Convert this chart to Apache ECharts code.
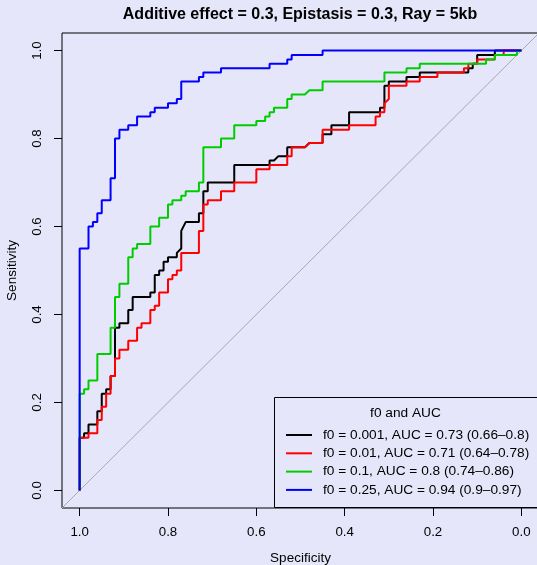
<!DOCTYPE html>
<html>
<head>
<meta charset="utf-8">
<script src="https://cdn.jsdelivr.net/npm/echarts@6/dist/echarts.min.js"></script>
<style>
html,body{margin:0;padding:0;background:#E6E6FA;}
#chart{width:537px;height:565px;}
</style>
</head>
<body>
<div id="chart"></div>
<script>
// ---- data: [specificity, sensitivity] vertices of each ROC curve ----
const titleText = "Additive effect = 0.3, Epistasis = 0.3, Ray = 5kb";
const xTicks = [0, 0.2, 0.4, 0.6, 0.8, 1.0];
const yTicks = [0, 0.2, 0.4, 0.6, 0.8, 1.0];
const legendTitle = "f0 and AUC";
const seriesNames = [
  "f0 = 0.001, AUC = 0.73 (0.66\u20130.8)",
  "f0 = 0.01, AUC = 0.71 (0.64\u20130.78)",
  "f0 = 0.1, AUC = 0.8 (0.74\u20130.86)",
  "f0 = 0.25, AUC = 0.94 (0.9\u20130.97)"
];
const seriesColors = ["#000000", "#FF0000", "#00CD00", "#0000FF"];

const rocF0001 = [[1,0],[1,0.12],[0.99,0.12],[0.99,0.13],[0.98,0.13],[0.98,0.15],[0.96,0.15],[0.96,0.18],[0.95,0.18],[0.95,0.22],[0.94,0.22],[0.94,0.23],[0.93,0.23],[0.93,0.26],[0.92,0.26],[0.92,0.37],[0.91,0.37],[0.91,0.38],[0.89,0.38],[0.89,0.41],[0.88,0.41],[0.88,0.44],[0.84,0.44],[0.84,0.45],[0.83,0.45],[0.83,0.49],[0.82,0.49],[0.82,0.50],[0.81,0.50],[0.81,0.52],[0.80,0.52],[0.80,0.53],[0.78,0.53],[0.78,0.54],[0.77,0.55],[0.77,0.59],[0.76,0.61],[0.73,0.61],[0.73,0.63],[0.72,0.63],[0.72,0.68],[0.71,0.68],[0.71,0.70],[0.65,0.70],[0.65,0.74],[0.57,0.74],[0.57,0.75],[0.56,0.75],[0.55,0.76],[0.53,0.76],[0.53,0.78],[0.49,0.78],[0.48,0.79],[0.45,0.79],[0.45,0.81],[0.43,0.81],[0.43,0.83],[0.39,0.83],[0.39,0.86],[0.32,0.86],[0.32,0.87],[0.31,0.87],[0.31,0.92],[0.30,0.92],[0.30,0.93],[0.26,0.93],[0.26,0.94],[0.23,0.94],[0.23,0.95],[0.12,0.95],[0.12,0.96],[0.11,0.96],[0.11,0.97],[0.10,0.97],[0.10,0.99],[0.06,0.99],[0.06,1],[0,1]];

const rocF001 = [[1,0],[1,0.12],[0.98,0.12],[0.98,0.13],[0.96,0.13],[0.96,0.16],[0.95,0.16],[0.95,0.19],[0.94,0.19],[0.94,0.22],[0.93,0.22],[0.93,0.26],[0.92,0.26],[0.92,0.30],[0.91,0.30],[0.91,0.32],[0.89,0.32],[0.89,0.34],[0.87,0.34],[0.87,0.37],[0.86,0.37],[0.86,0.38],[0.84,0.38],[0.84,0.41],[0.83,0.41],[0.83,0.42],[0.82,0.42],[0.82,0.45],[0.80,0.45],[0.80,0.48],[0.79,0.48],[0.79,0.49],[0.78,0.49],[0.78,0.50],[0.77,0.50],[0.77,0.54],[0.73,0.54],[0.73,0.59],[0.72,0.59],[0.72,0.65],[0.71,0.65],[0.71,0.66],[0.68,0.66],[0.68,0.68],[0.65,0.68],[0.65,0.70],[0.60,0.70],[0.60,0.73],[0.57,0.73],[0.57,0.74],[0.53,0.74],[0.53,0.76],[0.52,0.76],[0.52,0.78],[0.49,0.78],[0.48,0.79],[0.45,0.79],[0.45,0.82],[0.39,0.82],[0.39,0.83],[0.33,0.83],[0.33,0.85],[0.32,0.85],[0.32,0.86],[0.31,0.86],[0.31,0.88],[0.30,0.89],[0.30,0.92],[0.26,0.92],[0.26,0.93],[0.23,0.93],[0.23,0.94],[0.19,0.94],[0.19,0.95],[0.13,0.95],[0.13,0.96],[0.12,0.96],[0.12,0.97],[0.10,0.97],[0.10,0.98],[0.06,0.98],[0.06,0.99],[0.04,0.99],[0.04,1],[0,1]];

const rocF01 = [[1,0],[1,0.22],[0.99,0.22],[0.99,0.23],[0.98,0.23],[0.98,0.25],[0.96,0.25],[0.96,0.31],[0.93,0.31],[0.93,0.37],[0.92,0.37],[0.92,0.44],[0.91,0.44],[0.91,0.47],[0.89,0.47],[0.89,0.53],[0.88,0.53],[0.88,0.55],[0.87,0.55],[0.87,0.56],[0.84,0.56],[0.84,0.60],[0.82,0.60],[0.82,0.62],[0.80,0.62],[0.80,0.65],[0.79,0.65],[0.79,0.66],[0.77,0.66],[0.77,0.67],[0.76,0.67],[0.76,0.68],[0.73,0.68],[0.73,0.70],[0.72,0.70],[0.72,0.78],[0.68,0.78],[0.68,0.80],[0.65,0.80],[0.65,0.83],[0.60,0.83],[0.60,0.84],[0.58,0.84],[0.58,0.85],[0.57,0.85],[0.57,0.86],[0.56,0.86],[0.56,0.87],[0.53,0.87],[0.53,0.89],[0.52,0.89],[0.52,0.90],[0.49,0.90],[0.48,0.91],[0.45,0.91],[0.45,0.93],[0.31,0.93],[0.31,0.95],[0.26,0.95],[0.26,0.96],[0.23,0.96],[0.23,0.97],[0.08,0.97],[0.08,0.98],[0.06,0.98],[0.06,0.99],[0.01,0.99],[0.01,1],[0,1]];

const rocF025 = [[1,0],[1,0.55],[0.98,0.55],[0.98,0.60],[0.97,0.60],[0.97,0.61],[0.96,0.61],[0.96,0.63],[0.95,0.63],[0.95,0.66],[0.93,0.66],[0.93,0.71],[0.92,0.71],[0.92,0.80],[0.91,0.80],[0.91,0.82],[0.89,0.82],[0.89,0.83],[0.87,0.83],[0.87,0.85],[0.84,0.85],[0.84,0.86],[0.83,0.86],[0.83,0.87],[0.80,0.87],[0.80,0.88],[0.78,0.88],[0.78,0.89],[0.77,0.89],[0.77,0.93],[0.73,0.93],[0.73,0.94],[0.72,0.94],[0.72,0.95],[0.68,0.95],[0.68,0.96],[0.57,0.96],[0.57,0.97],[0.53,0.97],[0.53,0.98],[0.52,0.98],[0.52,0.99],[0.45,0.99],[0.45,1],[0,1]];

const chanceLine = [[1.04,-0.04],[-0.04,1.04]];
const curves = [rocF0001, rocF001, rocF01, rocF025];

// ---- chart ----
const FONT = "'Liberation Sans', Arial, Helvetica, sans-serif";
const chart = echarts.init(document.getElementById('chart'), null, {renderer: 'canvas'});

const series = [{
  name: 'chance', type: 'line', data: chanceLine, symbol: 'none', silent: true,
  lineStyle: {color: '#A8A8A8', width: 1}, z: 1
}];
curves.forEach((c, i) => {
  series.push({
    name: seriesNames[i], type: 'line', data: c, symbol: 'none', showSymbol: false,
    lineStyle: {color: seriesColors[i], width: 2}, itemStyle: {color: seriesColors[i]},
    z: 2 + i
  });
});

chart.setOption({
  backgroundColor: '#E6E6FA',
  animation: false,
  grid: {
    left: 62, right: -2, top: 33, bottom: 57,
    show: true, borderColor: '#000', borderWidth: 1, backgroundColor: 'transparent',
    containLabel: false, outerBoundsMode: 'none'
  },
  xAxis: {
    type: 'value', inverse: true, min: -0.04, max: 1.04,
    name: 'Specificity', nameLocation: 'middle', nameGap: 43,
    nameTextStyle: {fontFamily: FONT, fontSize: 13.5, color: '#000'},
    axisLine: {show: false, onZero: false},
    axisTick: {show: true, inside: false, length: 8, lineStyle: {color: '#000'}, customValues: xTicks},
    axisLabel: {show: true, margin: 18, fontFamily: FONT, fontSize: 13.3, color: '#000',
      customValues: xTicks, formatter: v => v.toFixed(1)},
    splitLine: {show: false}
  },
  yAxis: {
    type: 'value', min: -0.04, max: 1.04,
    name: 'Sensitivity', nameLocation: 'middle', nameGap: 43,
    nameTextStyle: {fontFamily: FONT, fontSize: 13.5, color: '#000'},
    axisLine: {show: false, onZero: false},
    axisTick: {show: true, inside: false, length: 8, lineStyle: {color: '#000'}, customValues: yTicks},
    axisLabel: {show: true, margin: 18, rotate: 90, fontFamily: FONT, fontSize: 13.3, color: '#000',
      customValues: yTicks, formatter: v => v.toFixed(1)},
    splitLine: {show: false}
  },
  legend: {
    data: seriesNames, orient: 'vertical', left: 281, top: 423,
    icon: 'rect', itemWidth: 26, itemHeight: 2, itemGap: 4.3,
    textStyle: {fontFamily: FONT, fontSize: 13.7, lineHeight: 14, color: '#000', padding: [0, 0, 0, 6]},
    selectedMode: false, z: 10
  },
  graphic: [
    {type: 'rect', z: 5, shape: {x: 274.5, y: 397.5, width: 300, height: 110},
      style: {fill: '#E6E6FA', stroke: '#000', lineWidth: 1}},
    {type: 'text', z: 6, x: 405.5, y: 413, style: {text: legendTitle, font: '13.7px ' + FONT,
      fill: '#000', textAlign: 'center', textVerticalAlign: 'middle'}},
    {type: 'text', z: 6, x: 300, y: 15, style: {text: titleText, font: 'bold 16px ' + FONT,
      fill: '#000', textAlign: 'center', textVerticalAlign: 'middle'}}
  ],
  series: series
});
</script>
</body>
</html>
